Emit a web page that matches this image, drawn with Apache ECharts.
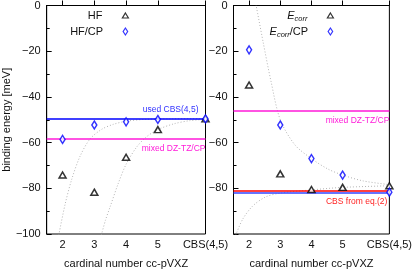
<!DOCTYPE html>
<html><head><meta charset="utf-8">
<script src="https://cdn.jsdelivr.net/npm/echarts@6/dist/echarts.min.js"></script>
<style>html,body{margin:0;padding:0;background:#fff}#c{width:415px;height:274px}</style>
</head><body><div id="c"></div>
<script>
// ---- data ----
const cardinalX = [2, 3, 4, 5, 6.5];
const xTickLabels = ['2', '3', '4', '5', 'CBS(4,5)'];
const yTicksLeft = [0, -20, -40, -60, -80, -100];
const yTicksRight = [0, -20, -40, -60, -80];

const hf      = [-74.2, -81.7, -66.4, -54.3, -49.6];
const hfCP    = [-58.6, -52.3, -50.9, -49.9, -49.6];
const ecorr   = [-34.8, -73.7, -80.5, -79.6, -78.9];
const ecorrCP = [-19.4, -52.3, -67.0, -74.2, -81.7];

const usedCBS = -49.6;
const mixedLeft = -58.2;
const mixedRight = -45.9;
const cbsEq2 = -81.2;
const cbsCPRight = -81.8;

// dotted fit curves
const fitHFx = [3.22, 3.35, 3.5, 3.75, 4.0, 4.33, 4.64, 5.0, 5.5, 6.0, 6.5];
const fitHFy = [-100.5, -94, -88, -78, -69.5, -62, -57.5, -54.3, -51.8, -50.4, -49.8];
const fitHFCPx = [1.88, 2.08, 2.29, 2.55, 2.86, 3.23, 3.6, 4.02, 4.64, 5.5, 6.5];
const fitHFCPy = [-100.5, -87, -76, -66, -58.5, -54.2, -52, -50.6, -49.8, -49.6, -49.5];
const fitEcCPx = [2.22, 2.45, 2.7, 3.0, 3.47, 4.0, 4.52, 5.0, 5.67, 6.5];
const fitEcCPy = [0.5, -16, -33, -50, -61, -67, -71.5, -74.2, -76.8, -78.4];
const fitEcx = [1.57, 1.8, 2.12, 2.53, 3.0, 4.0, 5.0, 6.5];
const fitEcy = [-100.5, -93.4, -87.7, -83.8, -82.1, -80.7, -79.6, -78.9];

const zip = (a, b) => a.map((v, i) => [v, b[i]]);
const FONT = 'Liberation Sans';
const minus = v => String(v).replace('-', '\u2212');

function xAxis(gi) {
  return {
    type: 'value', gridIndex: gi, min: 1.5, max: 6.5,
    name: 'cardinal number cc-pVXZ', nameLocation: 'middle', nameGap: 24,
    nameTextStyle: { fontFamily: FONT, fontSize: 11, color: '#111' },
    axisLine: { show: true, lineStyle: { color: '#000', width: 1 } },
    axisTick: { show: true, inside: true, length: 5, customValues: cardinalX, lineStyle: { color: '#000' } },
    axisLabel: { show: true, customValues: cardinalX, margin: 5, fontFamily: FONT, fontSize: 11, color: '#111',
      formatter: v => xTickLabels[cardinalX.indexOf(v)] },
    splitLine: { show: false }
  };
}
function yAxis(gi, labels, withName) {
  return {
    type: 'value', gridIndex: gi, min: -100, max: 0, interval: 20,
    name: withName ? 'binding energy [meV]' : '', nameLocation: 'middle', nameGap: 31,
    nameTextStyle: { fontFamily: FONT, fontSize: 11, color: '#111' },
    axisLine: { show: true, lineStyle: { color: '#000', width: 1 } },
    axisTick: { show: true, inside: true, length: 5, lineStyle: { color: '#000' } },
    minorTick: { show: true, splitNumber: 2, length: 3, lineStyle: { color: '#000' } },
    axisLabel: { show: true, customValues: labels, margin: 6, fontFamily: FONT, fontSize: 11, color: '#111', formatter: minus },
    splitLine: { show: false }
  };
}
function hline(gi, v, color, text, pos, dist, labelColor) {
  return {
    type: 'line', xAxisIndex: gi, yAxisIndex: gi, data: [], silent: true, z: 3,
    markLine: {
      symbol: 'none', silent: true, animation: false,
      lineStyle: { color: color, width: 1.5, type: 'solid' },
      label: { show: !!text, position: pos || 'end', formatter: text || '', fontFamily: FONT, fontSize: 8.5,
        color: labelColor || color, distance: dist || 5 },
      data: [{ yAxis: v }]
    }
  };
}
function curve(gi, pts) {
  return { type: 'line', xAxisIndex: gi, yAxisIndex: gi, data: pts, smooth: 0.3,
    showSymbol: false, symbol: 'none',
    lineStyle: { color: '#b4b4b4', width: 1, type: [1, 2] }, z: 2, silent: true, clip: true };
}
function tri(gi, name, ys) {
  return { type: 'scatter', name: name, xAxisIndex: gi, yAxisIndex: gi, data: zip(cardinalX, ys),
    symbol: 'triangle', symbolSize: [7, 6], itemStyle: { color: '#fff', borderColor: '#000', borderWidth: 1.5 }, z: 5 };
}
function dia(gi, name, ys) {
  return { type: 'scatter', name: name, xAxisIndex: gi, yAxisIndex: gi, data: zip(cardinalX, ys),
    symbol: 'diamond', symbolSize: [5, 8], itemStyle: { color: '#fff', borderColor: '#0000ff', borderWidth: 1.5 }, z: 6 };
}
function legend(name, right, top, fmt, iw, ih) {
  return {
    data: [name], orient: 'vertical', right: right, top: top, padding: 0, align: 'right',
    itemWidth: iw, itemHeight: ih, selectedMode: false,
    itemStyle: { borderWidth: 1.2 },
    formatter: fmt,
    textStyle: { fontFamily: FONT, fontSize: 11, color: '#111', padding: [0, 15, 0, 0],
      rich: {
        e: { fontFamily: FONT, fontSize: 11, fontStyle: 'italic', color: '#111' },
        s: { fontFamily: FONT, fontSize: 7.5, fontStyle: 'italic', color: '#111', padding: [6, 0, 0, 0] },
        t: { fontFamily: FONT, fontSize: 11, color: '#111' }
      } }
  };
}

const chart = echarts.init(document.getElementById('c'), null, { renderer: 'canvas' });
chart.setOption({
  animation: false,
  backgroundColor: '#fff',
  grid: [
    { left: 46, top: 4.5, width: 159.5, height: 238, show: true, borderColor: '#000', borderWidth: 1, containLabel: false },
    { left: 233.5, top: 4.5, width: 159, height: 238, show: true, borderColor: '#000', borderWidth: 1, containLabel: false }
  ],
  xAxis: [xAxis(0), xAxis(1)],
  yAxis: [yAxis(0, yTicksLeft, true), yAxis(1, yTicksRight, false)],
  legend: [
    legend('HF', 286, 10, n => n, 6, 5),
    legend('HF/CP', 286.75, 26, n => n, 4.5, 7),
    legend('Ecorr', 81, 10, () => '{e|E}{s|corr}', 6, 5),
    legend('Ecorr/CP', 81.75, 26, () => '{e|E}{s|corr}{t|/CP}', 4.5, 7)
  ],
  series: [
    curve(0, zip(fitHFx, fitHFy)),
    curve(0, zip(fitHFCPx, fitHFCPy)),
    curve(1, zip(fitEcCPx, fitEcCPy)),
    curve(1, zip(fitEcx, fitEcy)),
    hline(0, usedCBS, '#0000ff', 'used CBS(4,5)', 'insideEndTop', [7, 5], '#3333ff'),
    hline(0, mixedLeft, '#ff1ad9', 'mixed DZ-TZ/CP', 'insideEndBottom', [0, 6]),
    hline(1, mixedRight, '#ff1ad9', 'mixed DZ-TZ/CP', 'insideEndBottom', [0, 6]),
    hline(1, cbsCPRight, '#3344ff', ''),
    hline(1, cbsEq2, '#ff0000', 'CBS from eq.(2)', 'insideEndBottom', [2, 6], '#ff2222'),
    tri(0, 'HF', hf),
    dia(0, 'HF/CP', hfCP),
    tri(1, 'Ecorr', ecorr),
    dia(1, 'Ecorr/CP', ecorrCP)
  ]
});
</script></body></html>
